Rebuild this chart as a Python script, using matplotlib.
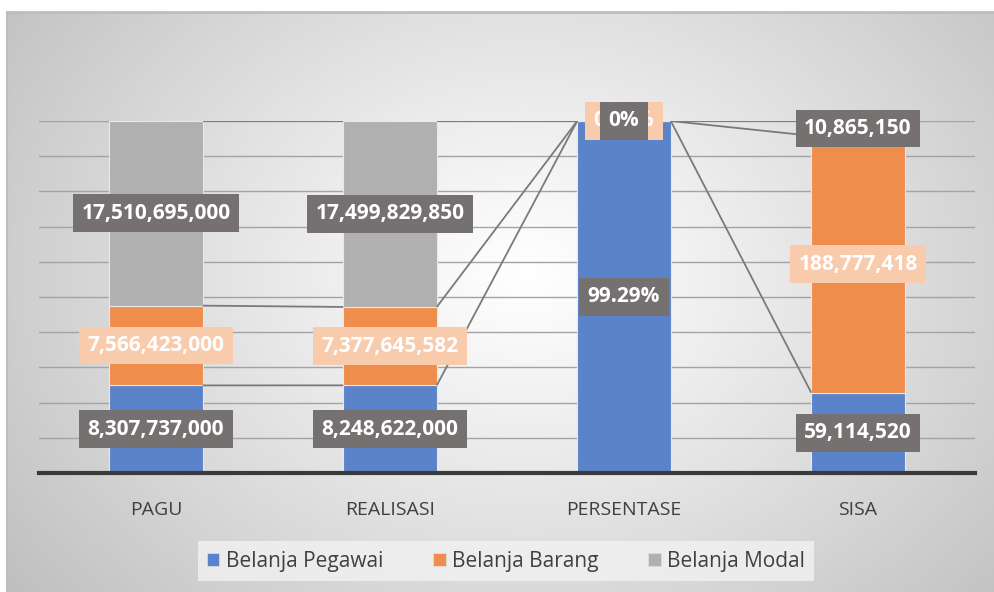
import numpy as np
import matplotlib
matplotlib.use("Agg")
import matplotlib.pyplot as plt
from matplotlib.patches import Patch

plt.rcParams['font.family'] = ['Open Sans', 'DejaVu Sans']

categories = ["PAGU", "REALISASI", "PERSENTASE", "SISA"]
series_names = ["Belanja Pegawai", "Belanja Barang", "Belanja Modal"]
pegawai = [8307737000, 8248622000, 99.29, 59114520]
barang = [7566423000, 7377645582, 0.0, 188777418]
modal = [17510695000, 17499829850, 0.0, 10865150]
pegawai_labels = ["8,307,737,000", "8,248,622,000", "99.29%", "59,114,520"]
barang_labels = ["7,566,423,000", "7,377,645,582", "0.00%", "188,777,418"]
modal_labels = ["17,510,695,000", "17,499,829,850", "0%", "10,865,150"]

colors = ["#5b83c9", "#ee8d4c", "#b0b0b0"]
label_box = ["#757171", "#f8cbad", "#757171"]

W, H = 995, 592
fig = plt.figure(figsize=(W / 100, H / 100), dpi=100)

# background gradient chart area
bg = fig.add_axes([7 / W, 0, (W - 7) / W, (H - 12) / H])
yy, xx = np.mgrid[0:200, 0:340]
cx, cy = 170 * 1.05, 200 * 0.45
r = np.sqrt(((xx - cx) / 340) ** 2 + ((yy - cy) / 200 * 0.75) ** 2)
r = r / r.max()
val = 1.0 - 0.25 * np.clip(r, 0, 1) ** 1.1
img = np.dstack([val, val, val])
bg.imshow(img, aspect='auto', extent=[0, 1, 0, 1], interpolation='bilinear')
bg.set_xlim(0, 1)
bg.set_ylim(0, 1)
bg.axis('off')
bg.plot([0, 1], [1, 1], color='#bdbdbd', lw=2, transform=bg.transAxes, clip_on=False)
bg.plot([0, 0], [0, 1], color='#bdbdbd', lw=1.5, transform=bg.transAxes, clip_on=False)

ax = fig.add_axes([39 / W, (H - 473) / H, 936 / W, 352 / H])
ax.set_facecolor('none')
x = np.arange(len(categories))
data = np.array([pegawai, barang, modal], dtype=float)
tot = data.sum(axis=0)
frac = data / tot
width = 0.4

for yv in np.arange(0.1, 1.01, 0.1):
    ax.axhline(yv, color='#a3a3a3', lw=1.0, zorder=1)

bottoms = np.zeros(len(categories))
tops = []
labels_all = [pegawai_labels, barang_labels, modal_labels]
for i in range(3):
    ax.bar(x, frac[i], width, bottom=bottoms, color=colors[i], edgecolor='#e8e8e8',
           linewidth=0.8, zorder=2)
    bottoms = bottoms + frac[i]
    tops.append(bottoms.copy())

# series lines
for i in range(3):
    t = tops[i]
    for j in range(len(categories) - 1):
        ax.plot([x[j] + width / 2, x[j + 1] - width / 2], [t[j], t[j + 1]],
                color='#7a7a7a', lw=1.3, zorder=3, solid_capstyle='butt')

bottoms = np.zeros(len(categories))
for i in range(3):
    for j in range(len(categories)):
        yc = bottoms[j] + frac[i][j] / 2
        if frac[i][j] == 0:
            yc = bottoms[j]
        ax.text(x[j], yc, labels_all[i][j], ha='center', va='center', color='white',
                fontsize=15, fontweight='bold', zorder=5 + i,
                bbox=dict(boxstyle='square,pad=0.4', fc=label_box[i], ec='none'))
    bottoms = bottoms + frac[i]

ax.set_xlim(-0.5, len(categories) - 0.5)
ax.set_ylim(0, 1)
ax.set_yticks([])
ax.set_xticks(x)
ax.set_xticklabels(categories, fontsize=14, color='#404040')
ax.tick_params(axis='x', length=0, pad=20)
for s in ['top', 'right', 'left']:
    ax.spines[s].set_visible(False)
ax.spines['bottom'].set_color('#3a3a3a')
ax.spines['bottom'].set_linewidth(3)
ax.spines['bottom'].set_zorder(4)

handles = [Patch(facecolor=c, edgecolor='#e0e0e0', linewidth=0.5) for c in colors]
leg = fig.legend(handles, series_names, loc='center', bbox_to_anchor=(506 / W, 1 - 561 / H),
                 ncol=3, frameon=True, fontsize=15, handlelength=0.6, handleheight=0.6,
                 handletextpad=0.3, columnspacing=2.4, borderpad=0.45, fancybox=False)
leg.get_frame().set_facecolor('#f2f2f2')
leg.get_frame().set_edgecolor('none')
leg.get_frame().set_alpha(0.8)
for t in leg.get_texts():
    t.set_color('#404040')

fig.savefig("out.png", dpi=100)
